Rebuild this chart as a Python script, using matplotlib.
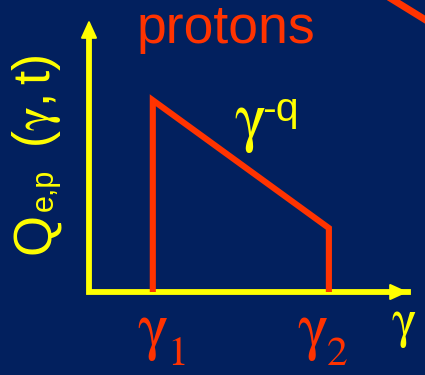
import matplotlib
matplotlib.use("Agg")
import matplotlib.pyplot as plt

# schematic injection spectrum Q(gamma): sharp cut-offs at gamma1 and gamma2
gamma_pts = [2.0, 2.0, 7.52, 7.52]
q_pts = [0.0, 7.05, 2.35, 0.0]

# piece of another drawing that pokes in at the top right corner
edge_x = [9.45, 10.9]
edge_y = [10.8, 9.75]

title = "protons"
slope_label = (r"$\mathrm{\gamma}$", "-q")
tick_labels = [(r"$\mathrm{\gamma}$", "1"), (r"$\mathrm{\gamma}$", "2")]
x_label = r"$\mathrm{\gamma}$"
y_label = ("Q", "e,p", r"$\mathregular{(}\mathrm{\gamma}\mathregular{,t)}$")

BG = "#02205e"
RED = "#ff3300"
YEL = "#ffff00"
W, H = 425, 375

plt.rcParams["font.family"] = ["Liberation Sans", "DejaVu Sans"]
plt.rcParams["mathtext.fontset"] = "stix"


def px(x, y):
    # pixel position (from top-left) -> figure fraction
    return x / W, 1 - y / H


fig = plt.figure(figsize=(W / 100, H / 100), dpi=100, facecolor=BG)
ax = fig.add_axes([89 / W, 83 / H, 319 / W, 272 / H])
ax.set_xlim(0, 10)
ax.set_ylim(0, 10)
ax.axis("off")

# axes with arrow heads
ax.plot([0, 0, 10], [9.5, 0, 0], color=YEL, lw=4.2, solid_joinstyle="miter",
        solid_capstyle="projecting", clip_on=False)
head = dict(arrowstyle="-|>,head_length=1.1,head_width=0.5", mutation_scale=10,
            color=YEL, lw=1.5, shrinkA=0, shrinkB=0)
ax.annotate("", xy=(0, 10), xytext=(0, 8), arrowprops=head, annotation_clip=False)
ax.annotate("", xy=(10, 0), xytext=(8, 0), arrowprops=head, annotation_clip=False)

ax.plot(gamma_pts, q_pts, color=RED, lw=4.4, solid_joinstyle="miter",
        solid_capstyle="butt", clip_on=False)
ax.plot(edge_x, edge_y, color=RED, lw=5, clip_on=False)

fig.text(*px(137, 43), title, color=RED, fontsize=38.5, ha="left", va="baseline")

fig.text(*px(234, 138), slope_label[0], color=YEL, fontsize=48,
         ha="left", va="baseline")
fig.text(*px(262, 121), slope_label[1], color=YEL, fontsize=29.5,
         ha="left", va="baseline")

for (g, sub), x0 in zip(tick_labels, [137, 297]):
    fig.text(*px(x0, 347), g, color=RED, fontsize=47, ha="left", va="baseline")
    fig.text(*px(x0 + 30, 365), sub, color=RED, fontsize=30, family="STIXGeneral",
             ha="left", va="baseline")

fig.text(*px(391, 336), x_label, color=YEL, fontsize=38, ha="left", va="baseline")

# rotated y label, built from pieces so the spacing follows the slide
rot = dict(color=YEL, rotation=90, rotation_mode="anchor", ha="left", va="baseline")
fig.text(*px(50, 254), y_label[0], fontsize=38, **rot)
fig.text(*px(53, 211), y_label[1], fontsize=22, **rot)
fig.text(*px(50, 148), y_label[2], fontsize=37, **rot)

fig.savefig("out.png", dpi=100, facecolor=BG)
